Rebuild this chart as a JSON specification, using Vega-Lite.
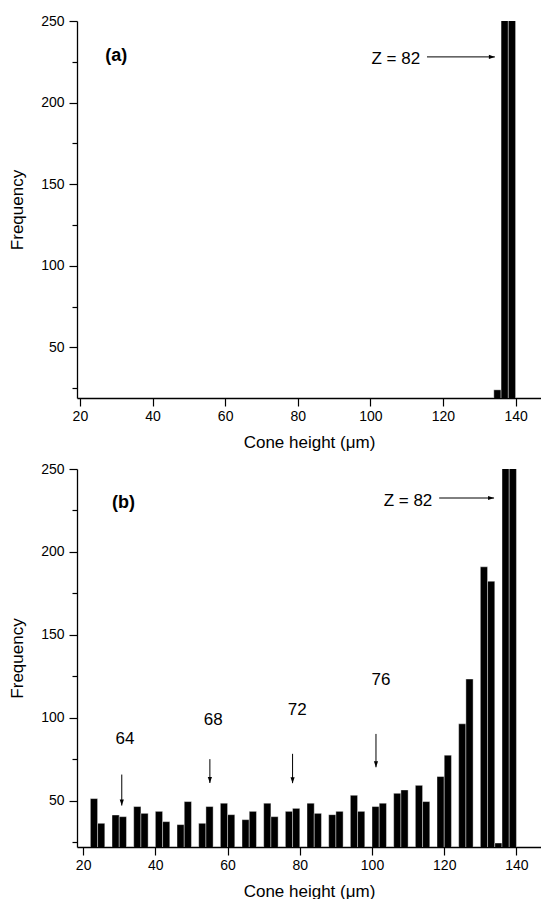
{
  "$schema": "https://vega.github.io/schema/vega-lite/v6.json",
  "padding": {"left": 8, "top": 14, "right": 0, "bottom": 0},
  "spacing": 12,
  "config": {
    "font": "Liberation Sans",
    "view": {"stroke": null},
    "axis": {
      "grid": false,
      "domainColor": "black",
      "domainWidth": 1.3,
      "tickColor": "black",
      "tickWidth": 1.2,
      "labelColor": "black",
      "labelFontSize": 14,
      "labelFont": "Liberation Sans",
      "titleColor": "black",
      "titleFontSize": 17,
      "titleFontWeight": "normal",
      "titleFont": "Liberation Sans",
      "labelFlush": false,
      "labelOverlap": false,
      "tickSize": 8
    }
  },
  "datasets": {
    "barsA": [
      {"start": 134, "end": 136, "freq": 24},
      {"start": 136, "end": 138, "freq": 300},
      {"start": 138, "end": 140, "freq": 300}
    ],
    "barsB": [
      {"start": 22, "end": 24, "freq": 51.2},
      {"start": 24, "end": 26, "freq": 36.3},
      {"start": 28, "end": 30, "freq": 41.3},
      {"start": 30, "end": 32, "freq": 40.3},
      {"start": 34, "end": 36, "freq": 46.4},
      {"start": 36, "end": 38, "freq": 42.3},
      {"start": 40, "end": 42, "freq": 43.5},
      {"start": 42, "end": 44, "freq": 37.3},
      {"start": 46, "end": 48, "freq": 35.5},
      {"start": 48, "end": 50, "freq": 49.4},
      {"start": 52, "end": 54, "freq": 36.3},
      {"start": 54, "end": 56, "freq": 46.4},
      {"start": 58, "end": 60, "freq": 48.4},
      {"start": 60, "end": 62, "freq": 41.5},
      {"start": 64, "end": 66, "freq": 38.5},
      {"start": 66, "end": 68, "freq": 43.5},
      {"start": 70, "end": 72, "freq": 48.4},
      {"start": 72, "end": 74, "freq": 40.3},
      {"start": 76, "end": 78, "freq": 43.5},
      {"start": 78, "end": 80, "freq": 45.3},
      {"start": 82, "end": 84, "freq": 48.4},
      {"start": 84, "end": 86, "freq": 42.3},
      {"start": 88, "end": 90, "freq": 41.5},
      {"start": 90, "end": 92, "freq": 43.5},
      {"start": 94, "end": 96, "freq": 53.2},
      {"start": 96, "end": 98, "freq": 43.5},
      {"start": 100, "end": 102, "freq": 46.4},
      {"start": 102, "end": 104, "freq": 48.4},
      {"start": 106, "end": 108, "freq": 54.4},
      {"start": 108, "end": 110, "freq": 56.4},
      {"start": 112, "end": 114, "freq": 59.2},
      {"start": 114, "end": 116, "freq": 49.4},
      {"start": 118, "end": 120, "freq": 64.5},
      {"start": 120, "end": 122, "freq": 77.4},
      {"start": 124, "end": 126, "freq": 96.3},
      {"start": 126, "end": 128, "freq": 123.3},
      {"start": 130, "end": 132, "freq": 191},
      {"start": 132, "end": 134, "freq": 182.3},
      {"start": 134, "end": 136, "freq": 24.4},
      {"start": 136, "end": 138, "freq": 300},
      {"start": 138, "end": 140, "freq": 300}
    ],
    "panelA": [{"label": "(a)", "h": 27, "f": 228.5}],
    "panelB": [{"label": "(b)", "h": 28, "f": 229.5}],
    "zA": [{"label": "Z = 82", "h": 113.7, "h2": 115.6, "h3": 134.3, "f": 226.8, "fa": 228}],
    "zB": [{"label": "Z = 82", "h": 116.7, "h2": 118.6, "h3": 133.8, "f": 231, "fa": 232.5}],
    "numsB": [
      {"label": "64", "h": 31.6, "f": 87, "ax": 30.7, "top": 65.7, "tip": 47},
      {"label": "68", "h": 56, "f": 98.5, "ax": 55.1, "top": 75, "tip": 60.6},
      {"label": "72", "h": 79.3, "f": 104.6, "ax": 78.0, "top": 78.2, "tip": 60.5},
      {"label": "76", "h": 102.5, "f": 122.7, "ax": 101.1, "top": 90.2, "tip": 70.1}
    ]
  },
  "vconcat": [
    {
      "width": 464,
      "height": 377,
      "layer": [
        {
          "data": {"name": "barsA"},
          "mark": {"type": "bar", "color": "black", "clip": true, "stroke": "white", "strokeWidth": 0.4},
          "encoding": {
            "x": {"field": "start", "type": "quantitative",
              "scale": {"domain": [19.2, 147.0], "nice": false, "zero": false},
              "axis": {"title": "Cone height (μm)", "values": [20, 30, 40, 50, 60, 70, 80, 90, 100, 110, 120, 130, 140],
                "labelExpr": "datum.value % 20 === 0 ? datum.label : ''",
                "tickSize": {"condition": {"test": "datum.value % 20 === 0", "value": 8}, "value": 5},
                "labelPadding": 3,
                "titlePadding": 11}},
            "x2": {"field": "end"},
            "y": {"field": "freq", "type": "quantitative",
              "scale": {"domain": [19, 250], "nice": false, "zero": false},
              "axis": {"title": "Frequency", "values": [25, 50, 75, 100, 125, 150, 175, 200, 225, 250],
                "labelExpr": "datum.value % 50 === 0 ? datum.label : ''",
                "tickSize": {"condition": {"test": "datum.value % 50 === 0", "value": 8}, "value": 5},
                "labelPadding": 5,
                "titlePadding": 14}},
            "y2": {"datum": 0}
          }
        },
        {
          "mark": {"type": "rule", "color": "black", "strokeWidth": 1.3},
          "encoding": {"y": {"datum": 250}}
        },
        {
          "data": {"name": "panelA"},
          "mark": {"type": "text", "fontSize": 18, "fontWeight": "bold", "align": "left", "baseline": "middle", "font": "Liberation Sans"},
          "encoding": {"x": {"field": "h", "type": "quantitative"}, "y": {"field": "f", "type": "quantitative"}, "text": {"field": "label"}}
        },
        {
          "data": {"name": "zA"},
          "layer": [
            {
              "mark": {"type": "text", "fontSize": 17, "align": "right", "baseline": "middle", "font": "Liberation Sans"},
              "encoding": {"x": {"field": "h", "type": "quantitative"}, "y": {"field": "f", "type": "quantitative"}, "text": {"field": "label"}}
            },
            {
              "mark": {"type": "rule", "color": "black", "strokeWidth": 1},
              "encoding": {"x": {"field": "h2", "type": "quantitative"}, "x2": {"field": "h3"}, "y": {"field": "fa", "type": "quantitative"}}
            },
            {
              "mark": {"type": "point", "shape": "M-1,-0.35L-1,0.35L0,0Z", "size": 144, "filled": true, "color": "black", "opacity": 1},
              "encoding": {"x": {"field": "h3", "type": "quantitative"}, "y": {"field": "fa", "type": "quantitative"}}
            }
          ]
        }
      ]
    },
    {
      "width": 464,
      "height": 378,
      "layer": [
        {
          "data": {"name": "barsB"},
          "mark": {"type": "bar", "color": "black", "clip": true, "stroke": "white", "strokeWidth": 0.4},
          "encoding": {
            "x": {"field": "start", "type": "quantitative",
              "scale": {"domain": [18.3, 146.8], "nice": false, "zero": false},
              "axis": {"title": "Cone height (μm)", "values": [20, 30, 40, 50, 60, 70, 80, 90, 100, 110, 120, 130, 140],
                "labelExpr": "datum.value % 20 === 0 ? datum.label : ''",
                "tickSize": {"condition": {"test": "datum.value % 20 === 0", "value": 8}, "value": 5},
                "labelPadding": 3,
                "titlePadding": 11}},
            "x2": {"field": "end"},
            "y": {"field": "freq", "type": "quantitative",
              "scale": {"domain": [22, 250], "nice": false, "zero": false},
              "axis": {"title": "Frequency", "values": [25, 50, 75, 100, 125, 150, 175, 200, 225, 250],
                "labelExpr": "datum.value % 50 === 0 ? datum.label : ''",
                "tickSize": {"condition": {"test": "datum.value % 50 === 0", "value": 8}, "value": 5},
                "labelPadding": 5,
                "titlePadding": 14}},
            "y2": {"datum": 0}
          }
        },
        {
          "mark": {"type": "rule", "color": "black", "strokeWidth": 1.3},
          "encoding": {"y": {"datum": 250}}
        },
        {
          "data": {"name": "panelB"},
          "mark": {"type": "text", "fontSize": 18, "fontWeight": "bold", "align": "left", "baseline": "middle", "font": "Liberation Sans"},
          "encoding": {"x": {"field": "h", "type": "quantitative"}, "y": {"field": "f", "type": "quantitative"}, "text": {"field": "label"}}
        },
        {
          "data": {"name": "zB"},
          "layer": [
            {
              "mark": {"type": "text", "fontSize": 17, "align": "right", "baseline": "middle", "font": "Liberation Sans"},
              "encoding": {"x": {"field": "h", "type": "quantitative"}, "y": {"field": "f", "type": "quantitative"}, "text": {"field": "label"}}
            },
            {
              "mark": {"type": "rule", "color": "black", "strokeWidth": 1},
              "encoding": {"x": {"field": "h2", "type": "quantitative"}, "x2": {"field": "h3"}, "y": {"field": "fa", "type": "quantitative"}}
            },
            {
              "mark": {"type": "point", "shape": "M-1,-0.35L-1,0.35L0,0Z", "size": 144, "filled": true, "color": "black", "opacity": 1},
              "encoding": {"x": {"field": "h3", "type": "quantitative"}, "y": {"field": "fa", "type": "quantitative"}}
            }
          ]
        },
        {
          "data": {"name": "numsB"},
          "layer": [
            {
              "mark": {"type": "text", "fontSize": 17, "align": "center", "baseline": "middle", "font": "Liberation Sans"},
              "encoding": {"x": {"field": "h", "type": "quantitative"}, "y": {"field": "f", "type": "quantitative"}, "text": {"field": "label"}}
            },
            {
              "mark": {"type": "rule", "color": "black", "strokeWidth": 1},
              "encoding": {"x": {"field": "ax", "type": "quantitative"}, "y": {"field": "top", "type": "quantitative"}, "y2": {"field": "tip"}}
            },
            {
              "mark": {"type": "point", "shape": "M-0.35,-1L0.35,-1L0,0Z", "size": 144, "filled": true, "color": "black", "opacity": 1},
              "encoding": {"x": {"field": "ax", "type": "quantitative"}, "y": {"field": "tip", "type": "quantitative"}}
            }
          ]
        }
      ]
    }
  ]
}
